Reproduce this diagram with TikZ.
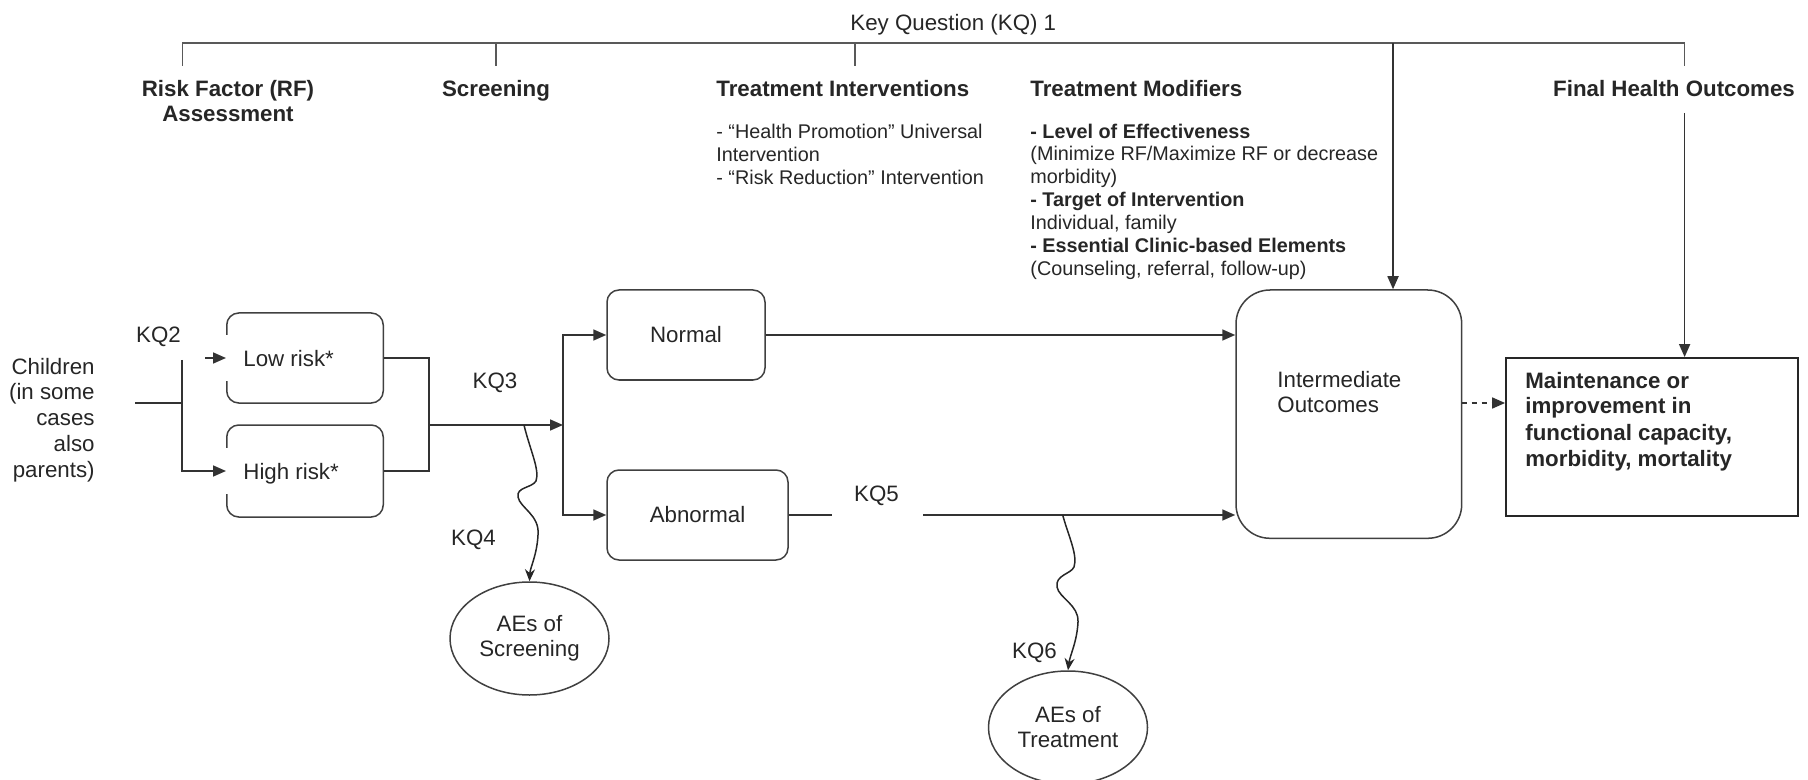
\documentclass[tikz,border=0pt]{standalone}
\usepackage{fontspec}
\setmainfont{Liberation Sans}
\usetikzlibrary{arrows.meta,shapes.geometric,calc}
\begin{document}
\begin{tikzpicture}[x=0.5pt,y=-0.5pt,
  every node/.style={font=\fontsize{11.15}{12.5}\selectfont, inner sep=0pt, text=black!85},
  tight/.style={font=\fontsize{9.9}{11.45}\selectfont},
  hdr/.style={font=\bfseries\fontsize{11.15}{12.5}\selectfont},
  ln/.style={line width=0.85pt, draw=black!80},
  brk/.style={line width=0.85pt, draw=black!65},
  arr/.style={ln, -{Triangle[length=6.5pt,width=5.5pt]}},
  warr/.style={line width=0.75pt, draw=black!85, -{Stealth[length=6pt,width=5pt]}},
  rbox/.style={draw=black!75, line width=0.75pt, rounded corners=6pt},
  ell/.style={ellipse, draw=black!75, line width=0.75pt, minimum width=79.5pt, minimum height=56.5pt, align=center},
  gap/.style={draw=white, line width=2.5pt}]

\useasboundingbox (0,0) rectangle (1808,780);

% ---- Key question 1 bracket
\node[anchor=base west] (kq1) at (850,30.5) {Key Question (KQ) 1};
\coordinate (b1) at (182.5,43);
\coordinate (b2) at (496,43);
\coordinate (b3) at (855,43);
\coordinate (kqa) at (1393,43);
\coordinate (b5) at (1684.6,43);
\draw[brk] (182.5,66) -- (b1) -- (b5) -- (1684.6,66);
\draw[brk] (b2) -- (496,66);
\draw[brk] (b3) -- (855,66);

% ---- headers (anchor=base of a multi-line node = baseline of its last line)
\node[hdr, align=center, anchor=base] (rf) at (228,122) {Risk Factor (RF)\\Assessment};
\node[hdr, anchor=base] (scrh) at (496,97) {Screening};
\node[hdr, anchor=base west] (tih) at (716,97) {Treatment Interventions};
\node[hdr, anchor=base west] (tmh) at (1030,97) {Treatment Modifiers};
\node[hdr, anchor=base] (fho) at (1674,97) {Final Health Outcomes};

\node[tight, anchor=base west, align=left] (til) at (716,184.5)
  {- “Health Promotion” Universal\\Intervention\\- “Risk Reduction” Intervention};
\node[tight, anchor=base west, align=left] (tml) at (1030,275.5)
  {\textbf{- Level of Effectiveness}\\(Minimize RF/Maximize RF or decrease\\morbidity)\\\textbf{- Target of Intervention}\\Individual, family\\\textbf{- Essential Clinic-based Elements}\\(Counseling, referral, follow-up)};

% ---- left part
\node[anchor=base east, align=right, font=\fontsize{11.15}{12.85}\selectfont] (ch) at (95,477)
  {Children\\(in some\\cases\\also\\parents)};
\node[anchor=base] (kq2) at (158.5,343) {KQ2};

\node[rbox, minimum width=78.25pt, minimum height=45pt] (low) at (305,358) {};
\node[rbox, minimum width=78.25pt, minimum height=46pt] (high) at (305,471) {};
\node[anchor=base west] (lowt) at (243,366) {Low risk*};
\node[anchor=base west] (hight) at (243,479) {High risk*};

\draw[gap] ($(low.west)+(0,-23)$) -- ($(low.west)+(0,23)$);
\draw[gap] ($(high.west)+(0,-23)$) -- ($(high.west)+(0,23)$);

\coordinate (cst) at (135,403);
\coordinate (split) at (182,403);
\coordinate (kqtop) at (182,360);
\coordinate (lowst) at (205,358);
\draw[ln] (cst) -- (split);
\draw[arr] (kqtop) |- (high.west);
\draw[arr] (lowst) -- (low.west);

\coordinate (rj) at (429,425);
\coordinate (ssplit) at (563,425);
\draw[ln] (low.east) -| (rj);
\draw[ln] (high.east) -| (rj);
\draw[arr] (rj) -- (ssplit);
\node[anchor=base] (kq3) at (495,388) {KQ3};

\node[rbox, minimum width=79pt, minimum height=45pt] (nor) at (686,335) {Normal};
\node[rbox, minimum width=90.5pt, minimum height=45pt] (abn) at (697.5,515) {Abnormal};
\draw[arr] (ssplit) |- (nor.west);
\draw[arr] (ssplit) |- (abn.west);

% ---- adverse effects of screening
\node[ell] (aes) at (529.5,638.5) {AEs of\\Screening};
\coordinate (w4) at (524,425);
\draw[warr] (w4) .. controls (530,450) and (540,470) .. (536,481)
  .. controls (532,488) and (516,487) .. (518,497)
  .. controls (520,508) and (540,515) .. (538,535)
  .. controls (537,555) and (530,568) .. (aes.north);
\node[anchor=base] (kq4) at (473.5,545) {KQ4};

% ---- intermediate and final outcomes
\node[rbox, rounded corners=17pt, minimum width=112.85pt, minimum height=124.15pt] (inter) at (1348.85,414.15) {};
\node[anchor=base west, align=left] (intert) at (1277,412) {Intermediate\\Outcomes};

\node[draw=black!85, line width=0.9pt, minimum width=146pt, minimum height=79pt] (fin) at (1652,437) {};
\node[anchor=base west, align=left, font=\bfseries\fontsize{11.15}{13}\selectfont] (fint) at (1525,466)
  {Maintenance or\\improvement in\\functional capacity,\\morbidity, mortality};

\draw[arr] (nor.east) -- (nor.east -| inter.west);
\coordinate (k5a) at (832,515);
\coordinate (k5b) at (923,515);
\draw[ln] (abn.east) -- (k5a);
\draw[arr] (k5b) -- (k5b -| inter.west);
\node[anchor=base] (kq5) at (876.5,501) {KQ5};

\draw[arr] (kqa) -- (kqa |- inter.north);
\coordinate (kqb) at (1684.6,113);
\draw[arr] (kqb) -- (kqb |- fin.north);

\coordinate (d1) at (1461.7,403);
\draw[arr, dash pattern=on 2.5pt off 2.5pt] (d1) -- (d1 -| fin.west);

% ---- adverse effects of treatment
\node[ell] (aet) at (1068,727.5) {AEs of\\Treatment};
\coordinate (w6) at (1062.7,515);
\draw[warr] (w6) .. controls (1068,535) and (1078,555) .. (1074,567)
  .. controls (1071,574) and (1055,575) .. (1057,587)
  .. controls (1059,598) and (1079,605) .. (1078,622)
  .. controls (1077,642) and (1070,655) .. (aet.north);
\node[anchor=base] (kq6) at (1034.5,658) {KQ6};
\end{tikzpicture}
\end{document}
